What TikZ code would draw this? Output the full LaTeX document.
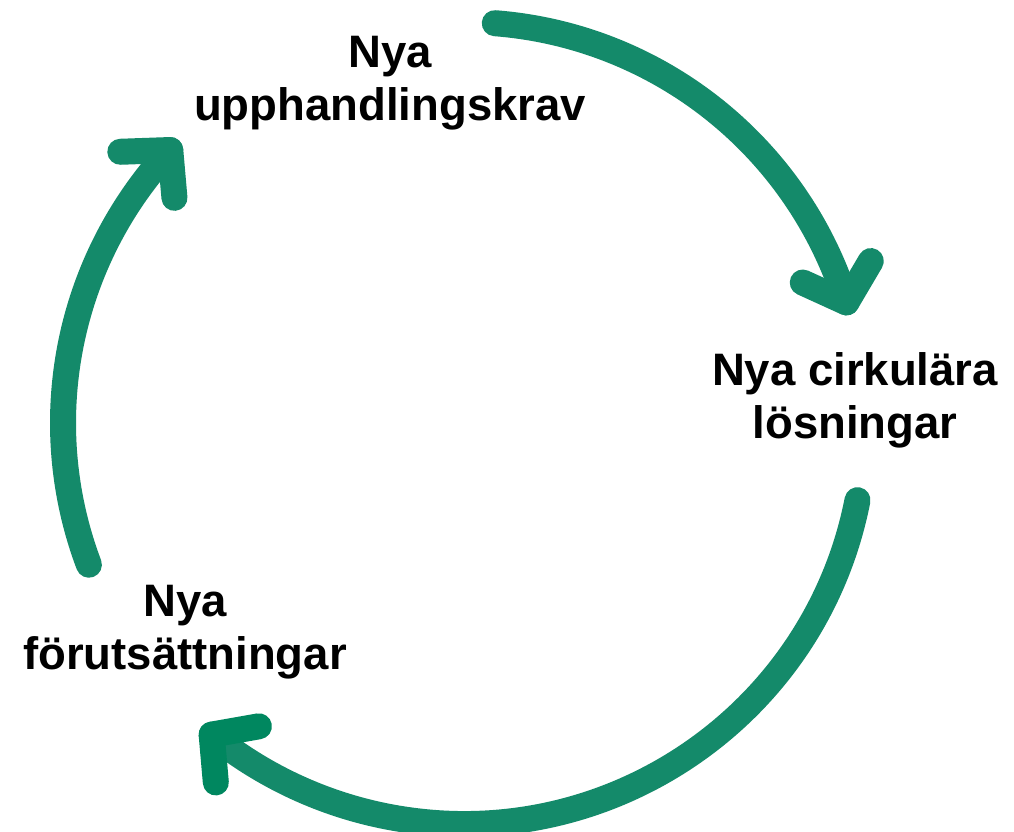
\documentclass[tikz,border=0pt]{standalone}
\usepackage{fontspec}
\setmainfont{Liberation Sans}
\definecolor{arcgreen}{HTML}{148A6A}
\definecolor{headgreen}{HTML}{00875F}
\begin{document}
\begin{tikzpicture}[x=1pt,y=1pt,
  arcline/.style={draw=arcgreen,line width=26pt,line cap=round,line join=round},
  label/.style={font=\fontsize{45.5}{53}\selectfont\bfseries,align=center,inner sep=0pt,anchor=base}]
\useasboundingbox[fill=white] (0,0) rectangle (1014,832);
\coordinate (c) at (464,409);
% arc ends
\coordinate (s1) at ([shift={(85.6:401)}]c);
\coordinate (e1) at ([shift={(17.5:401)}]c);
\coordinate (s2) at ([shift={(-11.1:401)}]c);
\coordinate (e2) at ([shift={(-129:401)}]c);
\coordinate (s3) at ([shift={(200.7:401)}]c);
\coordinate (e3) at ([shift={(137.1:401)}]c);
% arcs
\draw[arcline] (s1) arc[start angle=85.6,end angle=17.5,radius=401];
\draw[arcline] (s2) arc[start angle=-11.1,end angle=-129,radius=401];
\draw[arcline] (s3) arc[start angle=200.7,end angle=137.1,radius=401];
% arrow heads
\draw[arcline] ([shift={(155.5:48)}]e1) -- (e1) -- ([shift={(59.5:48)}]e1);
\draw[arcline,draw=headgreen] ([shift={(10:48)}]e2) -- (e2) -- ([shift={(-85:48)}]e2);
\draw[arcline] ([shift={(182:50)}]e3) -- (e3) -- ([shift={(275:48)}]e3);
% labels
\node[label] (krav) at (390,711) {Nya\\upphandlingskrav};
\node[label] (losn) at (855,393) {Nya cirkulära\\lösningar};
\node[label] (forut) at (185,162) {Nya\\förutsättningar};
\end{tikzpicture}
\end{document}
